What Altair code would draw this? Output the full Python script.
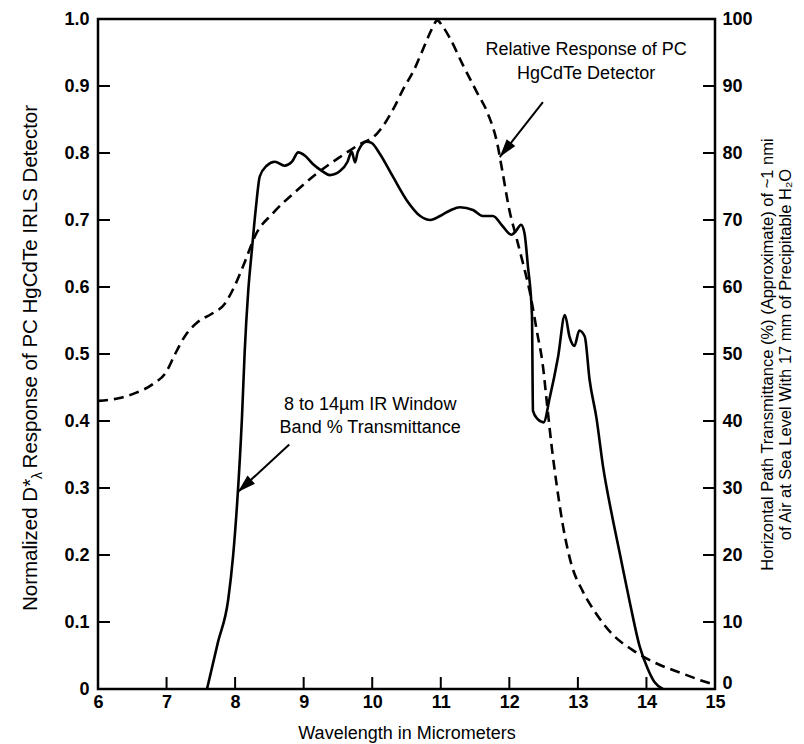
import math
import altair as alt
import pandas as pd

# ---------------- data ----------------
# Relative response of PC HgCdTe detector (dashed, left axis 0..1)
wl_resp = [6.0, 6.3, 6.55, 6.8, 7.0, 7.12, 7.27, 7.46, 7.66, 7.85, 8.0, 8.14, 8.3,
           8.55, 8.9, 9.2, 9.5, 9.8, 10.07, 10.33, 10.45, 10.6, 10.75, 10.87, 10.95,
           11.02, 11.13, 11.32, 11.52, 11.69, 11.82, 11.9, 12.0, 12.1, 12.2, 12.3,
           12.4, 12.49, 12.55, 12.62, 12.69, 12.78, 12.9, 13.07, 13.27, 13.5, 13.8,
           14.15, 14.5, 14.82, 15.0]
resp = [0.430, 0.434, 0.442, 0.455, 0.474, 0.499, 0.527, 0.548, 0.560, 0.575, 0.603,
        0.637, 0.678, 0.710, 0.744, 0.770, 0.792, 0.812, 0.829, 0.870, 0.895, 0.922,
        0.957, 0.985, 0.998, 0.990, 0.972, 0.932, 0.892, 0.858, 0.816, 0.772, 0.715,
        0.675, 0.635, 0.592, 0.535, 0.482, 0.425, 0.360, 0.305, 0.245, 0.188, 0.146,
        0.112, 0.082, 0.058, 0.038, 0.024, 0.012, 0.006]

# 8 to 14 um window transmittance (solid, right axis %)
wl_trans = [7.59, 7.75, 7.9, 7.97, 8.03, 8.1, 8.14, 8.19, 8.24, 8.3, 8.36, 8.46, 8.58,
            8.72, 8.83, 8.92, 9.02, 9.13, 9.27, 9.38, 9.53, 9.64, 9.70, 9.75, 9.79,
            9.92, 9.99, 10.11, 10.3, 10.5, 10.7, 10.85, 10.99, 11.15, 11.28, 11.47,
            11.61, 11.76, 11.9, 12.03, 12.1, 12.17, 12.22, 12.27, 12.33, 12.345, 12.41,
            12.5, 12.59, 12.71, 12.81, 12.88, 12.95, 13.02, 13.1, 13.17, 13.27, 13.37,
            13.49, 13.61, 13.76, 13.9, 14.02, 14.12, 14.24]
trans = [0, 7, 13.4, 19.8, 27.8, 40.5, 50.4, 59.2, 65, 71.5, 76.5, 78.1, 78.7,
         78.1, 78.7, 80.1, 79.6, 78.4, 77.3, 76.7, 77.3, 78.7, 80.2, 78.6, 80.2,
         81.7, 81.5, 79.9, 76.5, 73.0, 70.6, 70.0, 70.6, 71.5, 71.9, 71.5,
         70.6, 70.6, 69.1, 67.8, 68.4, 69.3, 68.1, 63.2, 55.8, 41.5, 40.3,
         39.8, 43.5, 49.5, 55.8, 52.5, 51.2, 53.5, 52.6, 46.2, 40.5, 33.0,
         26.3, 20.3, 12.8, 6.4, 3.0, 1.0, 0]

left_ticks = [0, 0.1, 0.2, 0.3, 0.4, 0.5, 0.6, 0.7, 0.8, 0.9, 1.0]
right_ticks = [0, 10, 20, 30, 40, 50, 60, 70, 80, 90, 100]
x_ticks = [6, 7, 8, 9, 10, 11, 12, 13, 14, 15]

# annotations (data coordinates, left-axis units)
note_text = ["Relative Response of PC", "HgCdTe Detector",
             "8 to 14\u00b5m IR Window", "Band % Transmittance"]
note_wl = [13.12, 13.12, 9.97, 9.97]
note_val = [0.947, 0.910, 0.417, 0.382]

arrow_wl_from = [12.49, 8.79]
arrow_val_from = [0.876, 0.365]
arrow_wl_to = [11.86, 8.04]
arrow_val_to = [0.794, 0.294]

# left axis title pieces: "Normalized D*", subscript "λ", rest
ltitle_parts = ["Normalized D*", "\u03bb", " Response of PC HgCdTe IRLS Detector"]

# ---------------- chart ----------------
W, H = 617, 670
FONT = "Liberation Sans"
x_scale = alt.Scale(domain=[6, 15], nice=False, zero=False)
yl_scale = alt.Scale(domain=[0, 1], nice=False, zero=False)
yr_scale = alt.Scale(domain=[0, 100], nice=False, zero=False)

x_axis = alt.Axis(values=x_ticks, ticks=False, domain=False, grid=False,
                  labelFont=FONT, labelFontWeight="bold", labelFontSize=18,
                  labelColor="black", labelPadding=4, labelFlush=False,
                  title="Wavelength in Micrometers", titleFont=FONT,
                  titleFontWeight="normal", titleFontSize=18, titleColor="black",
                  titlePadding=13)

yl_axis = alt.Axis(values=left_ticks,
                   labelExpr="datum.value == 0 ? '0' : format(datum.value, '.1f')",
                   ticks=False, domain=False, grid=False,
                   labelFont=FONT, labelFontWeight="bold", labelFontSize=18,
                   labelColor="black", labelPadding=9, labelFlush=False, title=None)

yr_axis = alt.Axis(orient="right", values=right_ticks, ticks=False, domain=False,
                   grid=False, labelFont=FONT, labelFontWeight="bold",
                   labelFontSize=18, labelColor="black", labelPadding=7,
                   labelOffset={"condition": {"test": "datum.value == 0", "value": -6},
                                "value": 0},
                   labelFlush=False,
                   title=["Horizontal Path Transmittance (%) (Approximate) of ~1 nmi",
                          "of Air at Sea Level With 17 mm of Precipitable H\u2082O"],
                   titleFont=FONT, titleFontWeight="normal", titleFontSize=16.5,
                   titleColor="black", titleAngle=270, titlePadding=5,
                   titleLineHeight=18)

resp_df = pd.DataFrame({"wl": wl_resp, "val": resp})
trans_df = pd.DataFrame({"wl": wl_trans, "pct": trans})

X = lambda f: alt.X(f, scale=x_scale, axis=x_axis)
YL = lambda f: alt.Y(f, scale=yl_scale, axis=None)

dashed = alt.Chart(resp_df).mark_line(
    color="black", strokeWidth=2.6, strokeDash=[10, 6], interpolate="monotone"
).encode(x=X("wl:Q"), y=alt.Y("val:Q", scale=yl_scale, axis=yl_axis))

solid = alt.Chart(trans_df).mark_line(
    color="black", strokeWidth=2.6, interpolate="monotone"
).encode(x=X("wl:Q"), y=alt.Y("pct:Q", scale=yr_scale, axis=yr_axis))

TICK = 12
lt = alt.Chart(pd.DataFrame({"val": left_ticks})).mark_rule(
    color="black", strokeWidth=2).encode(
    y=YL("val:Q"), x=alt.value(0), x2=alt.value(TICK))

rt = alt.Chart(pd.DataFrame({"pct": right_ticks})).mark_rule(
    color="black", strokeWidth=2).encode(
    y=alt.Y("pct:Q", scale=yr_scale, axis=None),
    x=alt.value(W - TICK), x2=alt.value(W))

xt = alt.Chart(pd.DataFrame({"wl": x_ticks})).mark_rule(
    color="black", strokeWidth=2).encode(
    x=X("wl:Q"), y=alt.value(H), y2=alt.value(H - TICK))

notes = alt.Chart(pd.DataFrame({"wl": note_wl, "val": note_val, "t": note_text})
                  ).mark_text(font=FONT, fontSize=18, color="black", align="center",
                              baseline="alphabetic").encode(
    x=X("wl:Q"), y=YL("val:Q"), text="t:N")

# arrow shafts and heads
px_per_wl = W / 9.0
px_per_val = H / 1.0
angles = []
for a, b, c, d in zip(arrow_wl_from, arrow_val_from, arrow_wl_to, arrow_val_to):
    dx = (c - a) * px_per_wl
    dy = -(d - b) * px_per_val
    angles.append((math.degrees(math.atan2(dx, -dy)) + 360) % 360)

arrow_df = pd.DataFrame({"wl": arrow_wl_from, "val": arrow_val_from,
                         "wl2": arrow_wl_to, "val2": arrow_val_to, "ang": angles})

shafts = alt.Chart(arrow_df).mark_rule(color="black", strokeWidth=2).encode(
    x=X("wl:Q"), y=YL("val:Q"), x2="wl2:Q", y2="val2:Q")

heads = alt.Chart(arrow_df).mark_point(
    shape="M0,0L-0.33,1.1L0.33,1.1Z", filled=True, size=1100, color="black",
    opacity=1, strokeWidth=0).encode(
    x=X("wl2:Q"), y=YL("val2:Q"), angle=alt.Angle("ang:Q", scale=None))

# left axis title drawn as rotated text pieces (for the subscript lambda)
TF, SF = 20.5, 14
w1 = 6.445 * TF          # "Normalized D*" (Arial metrics)
w2 = 0.75 * SF           # subscript lambda plus a little room
w3 = 18.12 * TF          # " Response of PC HgCdTe IRLS Detector"
start = H / 2 + (w1 + w2 + w3) / 2
BX = -61
t1 = alt.Chart(pd.DataFrame({"t": [ltitle_parts[0]]})).mark_text(
    font=FONT, fontSize=TF, angle=270, align="left", baseline="alphabetic",
    color="black").encode(text="t:N", x=alt.value(BX), y=alt.value(start))
t2 = alt.Chart(pd.DataFrame({"t": [ltitle_parts[1]]})).mark_text(
    font=FONT, fontSize=SF, angle=270, align="left", baseline="alphabetic",
    color="black").encode(text="t:N", x=alt.value(BX + 5), y=alt.value(start - w1))
t3 = alt.Chart(pd.DataFrame({"t": [ltitle_parts[2]]})).mark_text(
    font=FONT, fontSize=TF, angle=270, align="left", baseline="alphabetic",
    color="black").encode(text="t:N", x=alt.value(BX),
                          y=alt.value(start - w1 - w2))

chart = alt.layer(dashed, solid, lt, rt, xt, shafts, heads, notes, t1, t2, t3
                  ).resolve_scale(y="independent").properties(
    width=W, height=H, background="white",
    padding={"left": 90, "top": 11, "right": 80, "bottom": 55},
    autosize=alt.AutoSizeParams(type="none"),
).configure_view(stroke="black", strokeWidth=2.5)

chart.save("out.html", embed_options={"renderer": "svg", "actions": False})
